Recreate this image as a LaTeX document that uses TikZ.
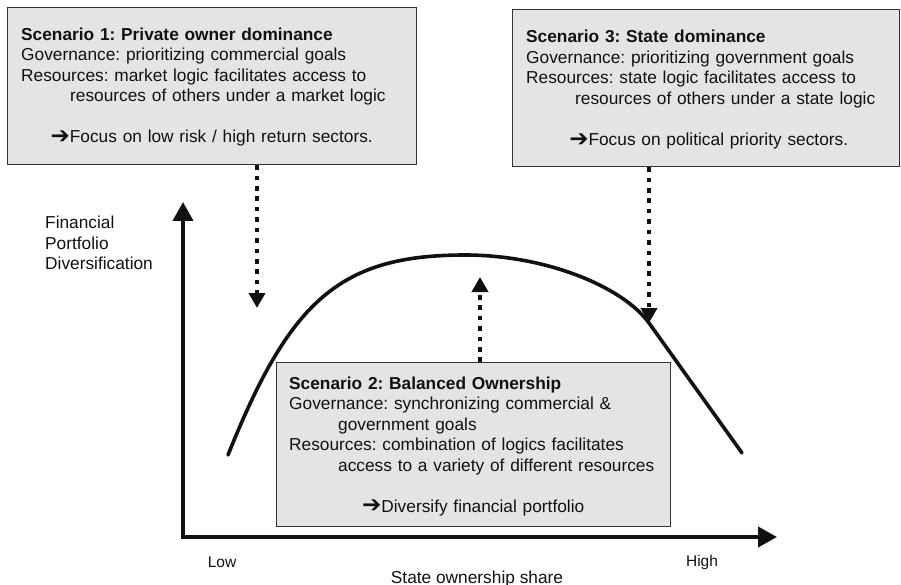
\documentclass[tikz,border=0pt]{standalone}
\usepackage{fontspec}
\setmainfont{Liberation Sans}
\newfontfamily\symfont{DejaVu Sans}
\usetikzlibrary{arrows.meta}
\frenchspacing

\definecolor{panelfill}{HTML}{E4E4E4}
\definecolor{panelline}{HTML}{333333}
\definecolor{ink}{HTML}{111111}

\newcommand{\fwdarrow}{{\symfont\fontsize{23}{20}\selectfont\raisebox{-0.6pt}{➔}}}

\tikzset{
  panel/.style={draw=panelline, line width=1.3pt, fill=panelfill, rectangle,
    inner sep=0pt, anchor=north west},
  paneltext/.style={inner sep=0pt, anchor=base west, align=left, text=ink,
    font=\fontsize{17.3}{20.5}\selectfont},
  axislabel/.style={inner sep=0pt, text=ink, font=\fontsize{15.5}{18}\selectfont},
  dotarrow/.style={draw=ink, line width=4.6pt, dash pattern=on 4.6pt off 5.8pt,
    -{Triangle[length=15pt,width=16pt]}},
  axisline/.style={draw=ink, line width=4pt, line join=miter,
    {Triangle[length=19pt,width=20pt]}-{Triangle[length=19pt,width=20pt]}},
  bell/.style={draw=ink, line width=3.6pt, line cap=round, line join=round}
}

\begin{document}
\begin{tikzpicture}[x=1pt, y=-1pt]
  \useasboundingbox (0,0) rectangle (901,585);
  \fill[white] (0,0) rectangle (901,585);

  % axes
  \coordinate (origin) at (183,537);
  \coordinate (ytip) at (183,202);
  \coordinate (xtip) at (777,537);
  \draw[axisline] (ytip) -- (origin) -- (xtip);

  % diversification curve
  \draw[bell] (228,455) .. controls (290,300) and (340,255) .. (465,255)
    .. controls (548,255) and (624,288) .. (649,323) -- (742,453);

  % axis labels (base anchor sits on the last line here)
  \node[paneltext] (ylab) at (45,269.5)
    {Financial\\Portfolio\\Diversification};
  \node[axislabel] (low) at (222,562) {Low};
  \node[axislabel] (high) at (702,562) {High};
  \node[paneltext, anchor=base] (xlab) at (477,583) {State ownership share};

  % scenario 1
  \node[panel, minimum width=409pt, minimum height=157pt] (s1) at (7,7) {};
  \node[paneltext, text width=381pt] (s1text) at (21,40.5) {%
    \textbf{Scenario 1: Private owner dominance}\\
    Governance: prioritizing commercial goals\\
    Resources: market logic facilitates access to\\
    \hspace*{49pt}resources of others under a market logic\\[20.5pt]
    \makebox[\linewidth][c]{\fwdarrow Focus on low risk / high return sectors.}};

  % scenario 3
  \node[panel, minimum width=387pt, minimum height=157pt] (s3) at (512,9) {};
  \node[paneltext, text width=365pt] (s3text) at (526,43) {%
    \textbf{Scenario 3: State dominance}\\
    Governance: prioritizing government goals\\
    Resources: state logic facilitates access to\\
    \hspace*{49pt}resources of others under a state logic\\[20.5pt]
    \makebox[\linewidth][c]{\fwdarrow Focus on political priority sectors.}};

  % scenario 2
  \node[panel, minimum width=394pt, minimum height=164pt] (s2) at (276,362) {};
  \node[paneltext, text width=368pt] (s2text) at (289,389) {%
    \textbf{Scenario 2: Balanced Ownership}\\
    Governance: synchronizing commercial \&\\
    \hspace*{49pt}government goals\\
    Resources: combination of logics facilitates\\
    \hspace*{49pt}access to a variety of different resources\\[20.5pt]
    \makebox[\linewidth][c]{\fwdarrow Diversify financial portfolio}};

  % influence arrows
  \coordinate (t1) at (257,308);
  \coordinate (t2) at (480,277);
  \coordinate (t3) at (649,323);
  \draw[dotarrow] (s1.south -| t1) -- (t1);
  \draw[dotarrow] (s2.north -| t2) -- (t2);
  \draw[dotarrow] (s3.south -| t3) -- (t3);
\end{tikzpicture}
\end{document}
